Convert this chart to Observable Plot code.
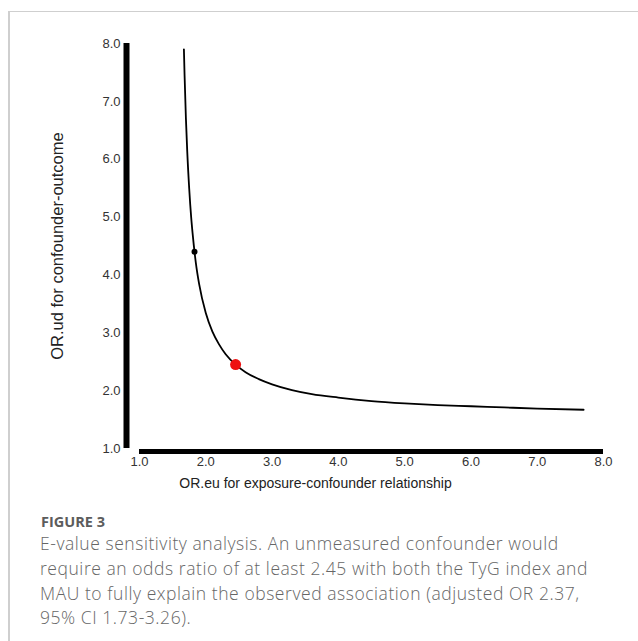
<!DOCTYPE html>
<html>
<head>
<meta charset="utf-8">
<script src="https://cdn.jsdelivr.net/npm/d3@7"></script>
<script src="https://cdn.jsdelivr.net/npm/@observablehq/plot@0.6"></script>
<style>
  html, body { margin: 0; padding: 0; background: #fff; }
  #page { position: relative; width: 638px; height: 641px; overflow: hidden; }
  #topline { position: absolute; left: 8px; top: 11px; width: 630px; height: 0; border-top: 1.5px solid #cfcfcf; }
  #leftline { position: absolute; left: 8px; top: 11px; width: 0; height: 630px; border-left: 2px solid #cfcfcf; }
  #chart { position: absolute; left: 0; top: 0; }
  #fig { position: absolute; left: 41px; top: 514px; font-family: "Open Sans", Lato, sans-serif; font-weight: 700; font-size: 14.5px; line-height: 16px; color: #5c5c5c; }
  #caption { position: absolute; left: 40px; top: 531px; font-family: "Open Sans", Lato, sans-serif; font-weight: 300; font-size: 17.5px; letter-spacing: 0.55px; line-height: 24.8px; color: #666; white-space: nowrap; }
</style>
</head>
<body>
<div id="page">
  <div id="topline"></div>
  <div id="leftline"></div>
  <div id="chart"></div>
  <div id="fig"></div>
  <div id="caption"></div>
</div>
<script>
// E-value bounding curve
const curveX = [1.67, 1.68, 1.70, 1.72, 1.75, 1.78, 1.80, 1.85, 1.90, 2.00, 2.10, 2.20, 2.30, 2.45, 2.60, 2.80, 3.00, 3.30, 3.60, 4.00, 4.50, 5.00, 5.50, 6.00, 6.50, 7.00, 7.70];
const curveY = [7.90, 7.45, 6.71, 6.14, 5.49, 4.99, 4.73, 4.21, 3.84, 3.34, 3.02, 2.80, 2.63, 2.45, 2.32, 2.20, 2.11, 2.01, 1.94, 1.88, 1.82, 1.78, 1.75, 1.73, 1.71, 1.69, 1.67];
// black marker on the curve
const blackX = [1.83];
const blackY = [4.40];
// red E-value marker
const redX = [2.45];
const redY = [2.45];
// ticks
const xTicks = [1, 2, 3, 4, 5, 6, 7, 8];
const xTickLabels = ["1.0", "2.0", "3.0", "4.0", "5.0", "6.0", "7.0", "8.0"];
const yTicks = [1, 2, 3, 4, 5, 6, 7, 8];
const yTickLabels = ["1.0", "2.0", "3.0", "4.0", "5.0", "6.0", "7.0", "8.0"];
const xTitle = "OR.eu for exposure-confounder relationship";
const yTitle = "OR.ud for confounder-outcome";
const figLabel = "FIGURE 3";
const captionLines = [
  "E-value sensitivity analysis. An unmeasured confounder would",
  "require an odds ratio of at least 2.45 with both the TyG index and",
  "MAU to fully explain the observed association (adjusted OR 2.37,",
  "95% CI 1.73-3.26)."
];

const curve = curveX.map((x, i) => ({x, y: curveY[i]}));
const black = blackX.map((x, i) => ({x, y: blackY[i]}));
const red = redX.map((x, i) => ({x, y: redY[i]}));

const chart = Plot.plot({
  width: 638,
  height: 500,
  marginLeft: 139,
  marginRight: 35,
  marginTop: 43,
  marginBottom: 52,
  style: { fontFamily: "'Liberation Sans', Arial, sans-serif", fontSize: "13px", color: "#333", background: "transparent" },
  x: { domain: [xTicks[0], xTicks[xTicks.length - 1]] },
  y: { domain: [yTicks[0], yTicks[yTicks.length - 1]] },
  marks: [
    Plot.axisX({ ticks: xTicks, tickFormat: (d, i) => xTickLabels[i], tickSize: 0, tickPadding: 8, label: null }),
    Plot.axisY({ ticks: yTicks, tickFormat: (d, i) => yTickLabels[i], tickSize: 0, tickPadding: 19, label: null }),
    Plot.ruleX([xTicks[0]], { y1: yTicks[0], y2: yTicks[yTicks.length - 1], dx: -13, stroke: "#000", strokeWidth: 6 }),
    Plot.ruleY([yTicks[0]], { x1: xTicks[0], x2: xTicks[xTicks.length - 1], dy: 3, stroke: "#000", strokeWidth: 5 }),
    Plot.line(curve, { x: "x", y: "y", curve: "monotone-x", stroke: "#000", strokeWidth: 1.8 }),
    Plot.dot(black, { x: "x", y: "y", r: 3, fill: "#000" }),
    Plot.dot(red, { x: "x", y: "y", r: 5.5, fill: "#ee1111" }),
    Plot.text([xTitle], { text: d => d, frameAnchor: "bottom", textAnchor: "middle", dx: -56, dy: 35, fontSize: 14, fill: "#222", lineAnchor: "middle" }),
    Plot.text([yTitle], { text: d => d, frameAnchor: "left", textAnchor: "middle", rotate: -90, dx: -82, fontSize: 16.5, fill: "#222", lineAnchor: "middle" })
  ]
});
document.getElementById("chart").appendChild(chart);
document.getElementById("fig").textContent = figLabel;
const cap = document.getElementById("caption");
captionLines.forEach((t, i) => {
  const d = document.createElement("div");
  d.textContent = t;
  cap.appendChild(d);
});
</script>
</body>
</html>
